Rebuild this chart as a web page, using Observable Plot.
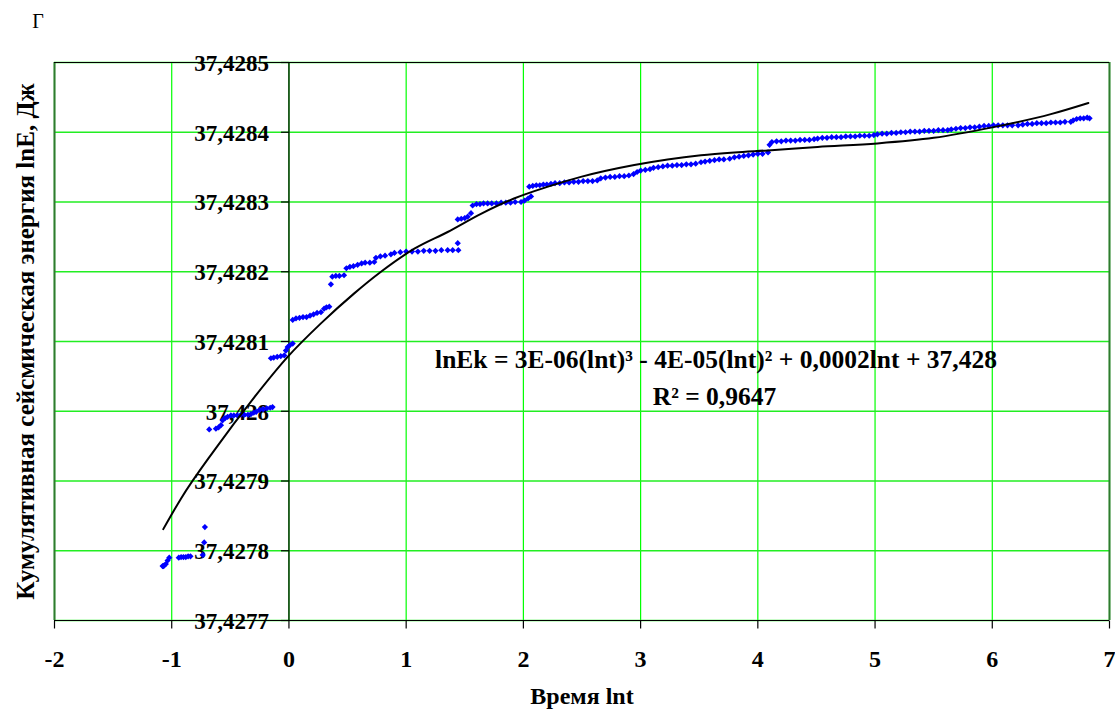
<!DOCTYPE html>
<html>
<head>
<meta charset="utf-8">
<script src="https://cdn.jsdelivr.net/npm/d3@7"></script>
<script src="https://cdn.jsdelivr.net/npm/@observablehq/plot@0.6"></script>
<style>
  html, body { margin: 0; padding: 0; background: #ffffff; }
  #chart svg { display: block; }
</style>
</head>
<body>
<div id="chart"></div>
<script>
// ---- data ----
const lnt = [
  -1.078, -1.070, -1.064, -1.050, -1.035, -1.021, -0.940, -0.920, -0.900, -0.880, -0.860, -0.840, -0.736, -0.723, -0.717,
  -0.680, -0.623, -0.600, -0.580, -0.566, -0.545, -0.523, -0.495, -0.470, -0.440, -0.410, -0.380, -0.350, -0.324, -0.300, -0.280, -0.250, -0.220, -0.190, -0.160, -0.140,
  -0.154, -0.130, -0.100, -0.070, -0.040, -0.026, -0.011, 0.010, 0.032,
  0.032, 0.060, 0.090, 0.120, 0.150, 0.180, 0.210, 0.240, 0.273, 0.300, 0.320, 0.344,
  0.358, 0.370, 0.400, 0.430, 0.470, 0.490, 0.520, 0.550, 0.586, 0.620, 0.650, 0.690, 0.728, 0.742, 0.780, 0.820, 0.870, 0.900, 0.950,
  1.000, 1.050, 1.100, 1.150, 1.200, 1.250, 1.300, 1.354, 1.397, 1.440, 1.445,
  1.440, 1.470, 1.500, 1.525, 1.553, 1.567, 1.600, 1.630, 1.660, 1.695, 1.730, 1.770, 1.810, 1.850, 1.890, 1.930, 1.980, 2.010, 2.040, 2.065,
  2.05, 2.08, 2.11, 2.14, 2.17, 2.20, 2.235, 2.27, 2.31, 2.35, 2.39, 2.43, 2.47, 2.51, 2.55, 2.59, 2.63, 2.66, 2.70, 2.74, 2.78, 2.82, 2.86, 2.90, 2.94, 2.97,
  3.00, 3.04, 3.08, 3.11, 3.15, 3.19, 3.23, 3.27, 3.31, 3.35, 3.39, 3.43, 3.47, 3.515, 3.55, 3.59, 3.63, 3.67, 3.71, 3.76, 3.80, 3.84, 3.88, 3.92, 3.96,
  4.00, 4.04, 4.087,
  4.10, 4.12, 4.16, 4.20, 4.24, 4.28, 4.32, 4.36, 4.40, 4.44, 4.48, 4.51, 4.55, 4.59, 4.63, 4.67, 4.71, 4.75, 4.79, 4.83, 4.87, 4.91, 4.95, 4.99,
  5.02, 5.06, 5.10, 5.14, 5.18, 5.22, 5.26, 5.30, 5.34, 5.38, 5.42, 5.46, 5.50, 5.54, 5.58, 5.62, 5.65, 5.69, 5.73, 5.77, 5.81, 5.85, 5.89, 5.93, 5.97,
  6.01, 6.05, 6.09, 6.13, 6.17, 6.22, 6.26, 6.30, 6.34, 6.38, 6.42, 6.46, 6.50, 6.54, 6.58, 6.62, 6.67, 6.69, 6.72, 6.75, 6.78, 6.81, 6.83
];
const lnE = [
  37.427778, 37.427778, 37.427779, 37.427781, 37.427786, 37.427790, 37.427790, 37.427791, 37.427791, 37.427791, 37.427792, 37.427792, 37.427794, 37.427812, 37.427834,
  37.427974, 37.427975, 37.427977, 37.427980, 37.427987, 37.427990, 37.427992, 37.427994, 37.427994, 37.427994, 37.427995, 37.427995, 37.427995, 37.427996, 37.427998, 37.427999, 37.428002, 37.428003, 37.428004, 37.428005, 37.428006,
  37.428076, 37.428077, 37.428078, 37.428079, 37.428080, 37.428087, 37.428092, 37.428095, 37.428097,
  37.428131, 37.428133, 37.428134, 37.428135, 37.428135, 37.428137, 37.428139, 37.428141, 37.428142, 37.428147, 37.428149, 37.428150,
  37.428182, 37.428193, 37.428194, 37.428194, 37.428195, 37.428205, 37.428207, 37.428208, 37.428210, 37.428212, 37.428213, 37.428213, 37.428214, 37.428220, 37.428222, 37.428223, 37.428225, 37.428227, 37.428228,
  37.428229, 37.428229, 37.428229, 37.428230, 37.428230, 37.428230, 37.428231, 37.428231, 37.428231, 37.428241, 37.428231,
  37.428275, 37.428276, 37.428277, 37.428279, 37.428284, 37.428295, 37.428297, 37.428297, 37.428298, 37.428298, 37.428298, 37.428298, 37.428299, 37.428299, 37.428299, 37.428300, 37.428300, 37.428302, 37.428305, 37.428308,
  37.428322, 37.428323, 37.428324, 37.428324, 37.428325, 37.428325, 37.428326, 37.428327, 37.428327, 37.428328, 37.428328, 37.428329, 37.428329, 37.428330, 37.428330, 37.428330, 37.428331, 37.428334, 37.428335, 37.428336, 37.428336, 37.428337, 37.428337, 37.428338, 37.428340, 37.428343,
  37.428345, 37.428346, 37.428347, 37.428349, 37.428350, 37.428351, 37.428352, 37.428352, 37.428353, 37.428353, 37.428354, 37.428354, 37.428355, 37.428357, 37.428358, 37.428359, 37.428360, 37.428361, 37.428361, 37.428362, 37.428364, 37.428365, 37.428366, 37.428367, 37.428368,
  37.428369, 37.428369, 37.428371,
  37.428382, 37.428386, 37.428387, 37.428387, 37.428388, 37.428388, 37.428388, 37.428389, 37.428389, 37.428389, 37.428390, 37.428391, 37.428392, 37.428392, 37.428393, 37.428393, 37.428393, 37.428394, 37.428394, 37.428394, 37.428395, 37.428395, 37.428395, 37.428396,
  37.428397, 37.428398, 37.428398, 37.428399, 37.428399, 37.428400, 37.428400, 37.428401, 37.428401, 37.428401, 37.428402, 37.428402, 37.428402, 37.428403, 37.428403, 37.428403, 37.428404, 37.428405, 37.428406, 37.428406, 37.428407, 37.428407, 37.428408, 37.428409, 37.428409,
  37.428410, 37.428410, 37.428410, 37.428410, 37.428410, 37.428410, 37.428411, 37.428412, 37.428412, 37.428413, 37.428413, 37.428413, 37.428414, 37.428414, 37.428414, 37.428415, 37.428415, 37.428417, 37.428419, 37.428420, 37.428420, 37.428421, 37.428420
];
// polynomial trend line
const trendLnt = [-1.072, -0.92, -0.637, -0.296, -0.011, 0.273, 0.557, 0.785, 1.07, 1.354, 1.638, 1.92, 2.21, 2.49, 2.946, 3.23, 3.515, 3.8, 4.085, 4.51, 5.02, 5.5, 6.0, 6.5, 6.82];
const trendLnE = [37.427831, 37.427875, 37.427944, 37.428020, 37.428078, 37.428126, 37.428169, 37.428200, 37.428233, 37.428257, 37.428283, 37.428305, 37.428322, 37.428336, 37.428353, 37.428361, 37.428367, 37.428371, 37.428374, 37.428379, 37.428384, 37.428392, 37.428407, 37.428426, 37.428442];

const xTicks = [-2, -1, 0, 1, 2, 3, 4, 5, 6, 7];
const xTickLabels = ["-2", "-1", "0", "1", "2", "3", "4", "5", "6", "7"];
const yTicks = [37.4277, 37.4278, 37.4279, 37.428, 37.4281, 37.4282, 37.4283, 37.4284, 37.4285];
const yTickLabels = ["37,4277", "37,4278", "37,4279", "37,428", "37,4281", "37,4282", "37,4283", "37,4284", "37,4285"];

const panelLabel = "Г";
const xTitle = "Время lnt";
const yTitle = "Кумулятивная сейсмическая энергия lnE, Дж";
const equation = "lnEk = 3E-06(lnt)³ - 4E-05(lnt)² + 0,0002lnt + 37,428";
const rSquared = "R² = 0,9647";

// ---- build ----
const points = lnt.map((x, i) => ({x, y: lnE[i]}));
const trend = trendLnt.map((x, i) => ({x, y: trendLnE[i]}));

const tickLeft = {draw(ctx) { ctx.moveTo(-8, 0); ctx.lineTo(0, 0); }};
const tickDown = {draw(ctx) { ctx.moveTo(0, 0); ctx.lineTo(0, 8); }};

const face = "'Liberation Serif', 'Liberation Sans', sans-serif";
const boldText = {fontFamily: face, fontWeight: "bold", fill: "#000000"};

const chart = Plot.plot({
  width: 1115,
  height: 710,
  marginLeft: 54,
  marginRight: 6,
  marginTop: 62,
  marginBottom: 90,
  style: "background: #ffffff; color: #000000;",
  x: {domain: [-2, 7], axis: null},
  y: {domain: [37.4277, 37.4285], axis: null},
  marks: [
    // grid
    Plot.ruleX(xTicks, {stroke: "#00ff00", strokeWidth: 1.2}),
    Plot.ruleY(yTicks, {stroke: "#22ee22", strokeWidth: 1.4}),
    // plot-area border
    Plot.ruleX([-2, 7], {stroke: "#2f7a2f", strokeWidth: 2}),
    Plot.ruleY([37.4285], {stroke: "#000000", strokeWidth: 1.2}),
    // axes
    Plot.ruleY([37.4277], {stroke: "#000000", strokeWidth: 1.2}),
    Plot.ruleX([0], {stroke: "#000000", strokeWidth: 1.2}),
    Plot.dot(yTicks, {x: 0, y: d => d, symbol: tickLeft, fill: "none", stroke: "#000000", strokeWidth: 1.2}),
    Plot.dot(xTicks, {x: d => d, y: 37.4277, symbol: tickDown, fill: "none", stroke: "#000000", strokeWidth: 1.2}),
    // tick labels
    Plot.text(yTicks, {x: 0, y: d => d, text: (d, i) => yTickLabels[i], textAnchor: "end", lineAnchor: "middle",
      dx: -20, dy: 1, fontSize: 23, ...boldText}),
    Plot.text(xTicks, {x: d => d, frameAnchor: "bottom", text: (d, i) => xTickLabels[i], textAnchor: "middle", lineAnchor: "middle",
      dy: 39, fontSize: 24, ...boldText}),
    // axis titles
    Plot.text([yTitle], {frameAnchor: "left", rotate: -90, textAnchor: "middle", lineAnchor: "middle",
      dx: -29, fontSize: 25, ...boldText}),
    Plot.text([xTitle], {frameAnchor: "bottom", textAnchor: "middle", lineAnchor: "middle",
      dy: 76, fontSize: 24, ...boldText}),
    Plot.text([panelLabel], {frameAnchor: "top-left", textAnchor: "middle", lineAnchor: "middle",
      dx: -16.5, dy: -40.5, fontSize: 20, fontFamily: face, fill: "#000000"}),
    // data
    Plot.dot(points, {x: "x", y: "y", symbol: "diamond2", r: 2.8, fill: "#0000ff", stroke: "none"}),
    Plot.line(trend, {x: "x", y: "y", curve: "monotone-x", stroke: "#000000", strokeWidth: 2}),
    // trend equation
    Plot.text([equation], {frameAnchor: "middle", textAnchor: "middle", lineAnchor: "middle",
      dx: 134, dy: 18.7, fontSize: 25.5, ...boldText}),
    Plot.text([rSquared], {frameAnchor: "middle", textAnchor: "middle", lineAnchor: "middle",
      dx: 132.5, dy: 55.7, fontSize: 25.5, ...boldText})
  ]
});

document.getElementById("chart").appendChild(chart);
</script>
</body>
</html>
